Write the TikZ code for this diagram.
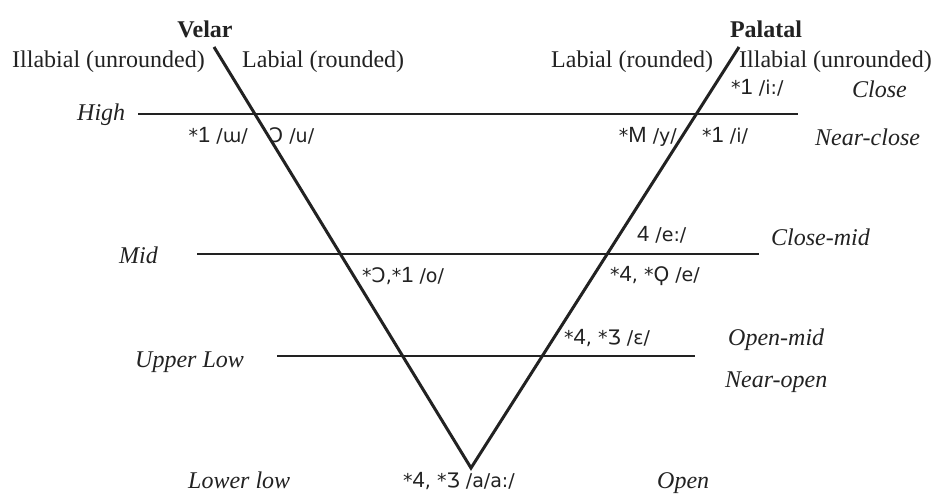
\documentclass[tikz,border=0pt]{standalone}
\usepackage{fontspec}
\setmainfont{Liberation Serif}
\newfontfamily\ipafont{DejaVu Sans}
\newfontfamily\runeAfont{Liberation Sans}
\newfontfamily\runeBfont{DejaVu Sans}
\newcommand{\runeA}[1]{{\runeAfont\fontsize{22}{24}\selectfont #1}}
\newcommand{\runeB}[1]{{\runeBfont\fontsize{20}{24}\selectfont #1}}
\definecolor{ink}{HTML}{222222}
\tikzset{
  lab/.style={inner sep=0pt, text=ink, font=\fontsize{24}{28}\selectfont},
  hdr/.style={lab, font=\fontsize{24}{28}\selectfont\bfseries},
  lvl/.style={lab, font=\fontsize{24}{28}\selectfont\itshape},
  vow/.style={inner sep=0pt, text=ink, font=\ipafont\fontsize{19}{22}\selectfont},
  vline/.style={draw=ink, line width=3pt, line join=miter},
  hline/.style={draw=ink, line width=1.8pt}
}
\begin{document}
\begin{tikzpicture}[x=1pt,y=-1pt]
\useasboundingbox (0,0) rectangle (936,494);
\fill[white] (0,0) rectangle (936,494);
% V shape
\coordinate (velartop) at (214,47);
\coordinate (apex) at (471,468);
\coordinate (palataltop) at (739,47);
\draw[vline] (velartop) -- (apex) -- (palataltop);
% horizontal levels
\coordinate (highL) at (138,114);
\coordinate (highR) at (798,114);
\coordinate (midL) at (197,254);
\coordinate (midR) at (759,254);
\coordinate (lowL) at (277,356);
\coordinate (lowR) at (695,356);
\draw[hline] (highL) -- (highR);
\draw[hline] (midL) -- (midR);
\draw[hline] (lowL) -- (lowR);
% headers
\node[hdr, anchor=base] (velar) at (205,38) {Velar};
\node[hdr, anchor=base] (palatal) at (766,38) {Palatal};
\node[lab, anchor=base west] (illL) at (12,68) {Illabial (unrounded)};
\node[lab, anchor=base west] (labL) at (242,68) {Labial (rounded)};
\node[lab, anchor=base west] (labR) at (551,68) {Labial (rounded)};
\node[lab, anchor=base west] (illR) at (739,68) {Illabial (unrounded)};
% level names
\node[lvl, anchor=base west] (high) at (77,121) {High};
\node[lvl, anchor=base west] (mid) at (119,263) {Mid};
\node[lvl, anchor=base west] (upperlow) at (135,367) {Upper Low};
\node[lvl, anchor=base west] (lowerlow) at (188,488) {Lower low};
\node[lvl, anchor=base west] (close) at (852,98) {Close};
\node[lvl, anchor=base west] (nearclose) at (815,146) {Near-close};
\node[lvl, anchor=base west] (closemid) at (771,245) {Close-mid};
\node[lvl, anchor=base west] (openmid) at (728,345) {Open-mid};
\node[lvl, anchor=base west] (nearopen) at (725,387) {Near-open};
\node[lvl, anchor=base west] (open) at (657,488) {Open};
% vowels
\node[vow, anchor=base east] (vw) at (248,143) {*\runeA{1} /ɯ/};
\node[vow, anchor=base west] (vu) at (269,143) {\runeB{Ↄ} /u/};
\node[vow, anchor=base east] (vy) at (677,143) {*\runeA{M} /y/};
\node[vow, anchor=base west] (vi) at (702,143) {*\runeA{1} /i/};
\node[vow, anchor=base west] (vii) at (731,95) {*\runeA{1} /i:/};
\node[vow, anchor=base west] (vee) at (637,242) {\runeA{4} /e:/};
\node[vow, anchor=base west] (ve) at (610,281) {*\runeA{4}, *\runeB{Ϙ} /e/};
\node[vow, anchor=base west] (vo) at (362,282) {*\runeB{Ↄ},*\runeA{1} /o/};
\node[vow, anchor=base west] (veps) at (564,344) {*\runeA{4}, *\runeB{Ʒ} /ɛ/};
\node[vow, anchor=base west] (va) at (403,487) {*\runeA{4}, *\runeB{Ʒ} /a/a:/};
\end{tikzpicture}
\end{document}
